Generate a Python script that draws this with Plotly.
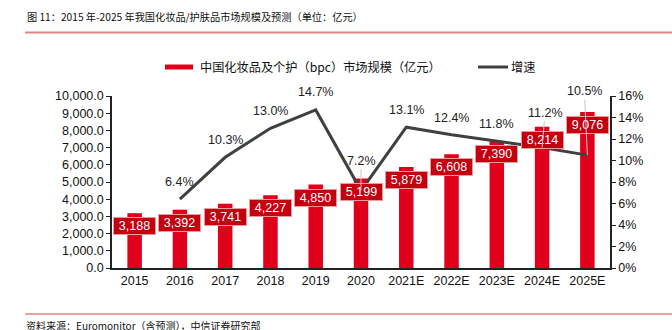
import plotly.graph_objects as go

categories = ["2015", "2016", "2017", "2018", "2019", "2020",
              "2021E", "2022E", "2023E", "2024E", "2025E"]
market_size = [3188, 3392, 3741, 4227, 4850, 5199, 5879, 6608, 7390, 8214, 9076]
growth_cats = ["2016", "2017", "2018", "2019", "2020",
               "2021E", "2022E", "2023E", "2024E", "2025E"]
growth = [0.064, 0.103, 0.130, 0.147, 0.072, 0.131, 0.124, 0.118, 0.112, 0.105]
growth_text = ["6.4%", "10.3%", "13.0%", "14.7%", "7.2%",
               "13.1%", "12.4%", "11.8%", "11.2%", "10.5%"]

# label styling (pixel offsets above the line point; leader line when True)
label_offset = [17, 17, 17, 18, 30, 17, 17, 17, 35, 64]
label_leader = [False, False, False, False, True, False, False, False, True, True]
label_xshift = [0, 0, 0, 0, 0, 0, 0, 0, 3, -3]

W, H = 672, 330
L, R, T, B = 112, 62, 96, 62
PW, PH = W - L - R, H - T - B

def px(x):
    return (x - L) / PW

def py(y):
    return (H - B - y) / PH

BAR_RED = "#E0001B"
BOX_RED = "#C40010"
LINE_GREY = "#404040"
FONT = "Arial, Liberation Sans, sans-serif"
CJK = "Noto Sans CJK SC, sans-serif"

fig = go.Figure()
fig.add_trace(go.Bar(x=categories, y=market_size, marker_color=BAR_RED,
                     marker_line_width=0, name="中国化妆品及个护（bpc）市场规模（亿元）",
                     showlegend=False))
fig.add_trace(go.Scatter(x=growth_cats, y=growth, yaxis="y2", mode="lines",
                         line=dict(color=LINE_GREY, width=3), name="增速",
                         showlegend=False))

annotations = []
for c, v in zip(categories, market_size):
    annotations.append(dict(x=categories.index(c), y=v, xref="x", yref="y",
                            text=f"{v:,}",
                            showarrow=False, yanchor="top", yshift=-4,
                            bgcolor=BOX_RED, bordercolor="#EC9A9A", borderwidth=1,
                            borderpad=0, width=41, height=16,
                            font=dict(family=FONT, size=12.5, color="white")))
for c, g, t, off, lead, xs in zip(growth_cats, growth, growth_text,
                                  label_offset, label_leader, label_xshift):
    xi = categories.index(c)
    if lead:
        annotations.append(dict(x=xi, y=g, xref="x", yref="y2", text=t,
                                showarrow=True, arrowhead=0, arrowwidth=1,
                                arrowcolor="#C8C8C8", ax=xs, ay=-off, standoff=0,
                                font=dict(family=FONT, size=12.5, color="#222")))
    else:
        annotations.append(dict(x=xi, y=g, xref="x", yref="y2", text=t,
                                showarrow=False, yanchor="middle", yshift=off,
                                xshift=xs,
                                font=dict(family=FONT, size=12.5, color="#222")))

# title, legend, source
annotations += [
    dict(xref="paper", yref="paper", x=px(25), y=py(16), xanchor="left",
         yanchor="middle", showarrow=False,
         text="图 11：2015 年-2025 年我国化妆品/护肤品市场规模及预测（单位：亿元）",
         font=dict(family=CJK, size=10.2, color="#111")),
    dict(xref="paper", yref="paper", x=px(198), y=py(67), xanchor="left",
         yanchor="middle", showarrow=False,
         text="中国化妆品及个护（bpc）市场规模（亿元）",
         font=dict(family=CJK, size=12.2, color="#111")),
    dict(xref="paper", yref="paper", x=px(509), y=py(67), xanchor="left",
         yanchor="middle", showarrow=False, text="增速",
         font=dict(family=CJK, size=12.2, color="#111")),
    dict(xref="paper", yref="paper", x=px(24), y=py(325), xanchor="left",
         yanchor="middle", showarrow=False,
         text="资料来源：Euromonitor（含预测），中信证券研究部",
         font=dict(family=CJK, size=10, color="#111")),
]

shapes = [
    dict(type="line", xref="paper", yref="paper", x0=px(25), x1=px(672),
         y0=py(32.5), y1=py(32.5), line=dict(color="#E08484", width=2)),
    dict(type="line", xref="paper", yref="paper", x0=px(25), x1=px(672),
         y0=py(314), y1=py(314), line=dict(color="#E08484", width=1.5)),
    dict(type="rect", xref="paper", yref="paper", x0=px(165), x1=px(193),
         y0=py(69.5), y1=py(64.5), fillcolor=BAR_RED, line=dict(width=0)),
    dict(type="line", xref="paper", yref="paper", x0=px(478), x1=px(508),
         y0=py(67), y1=py(67), line=dict(color=LINE_GREY, width=3)),
]

fig.update_layout(
    width=W, height=H, margin=dict(l=L, r=R, t=T, b=B, pad=0),
    paper_bgcolor="white", plot_bgcolor="white",
    bargap=0.68, showlegend=False,
    annotations=annotations, shapes=shapes,
    font=dict(family=FONT, size=12.5, color="#111"),
    xaxis=dict(type="category", categoryorder="array", categoryarray=categories,
               range=[-0.5, len(categories) - 0.5],
               showline=True, linecolor="#222", linewidth=1.5,
               ticks="", showgrid=False, tickfont=dict(family=FONT, size=12.5),
               fixedrange=True),
    yaxis=dict(range=[0, 10000], dtick=1000, tickformat=",.1f", showline=True,
               linecolor="#222", linewidth=1.5, ticks="outside", ticklen=4,
               tickcolor="#222", showgrid=False, zeroline=False,
               tickfont=dict(family=FONT, size=12.5)),
    yaxis2=dict(range=[0, 0.16], dtick=0.02, tickformat=".0%", overlaying="y",
                side="right", showline=True, linecolor="#222", linewidth=1.5,
                ticks="outside", ticklen=4, tickcolor="#222", showgrid=False,
                zeroline=False, tickfont=dict(family=FONT, size=12.5)),
)

fig.write_html("out.html")
